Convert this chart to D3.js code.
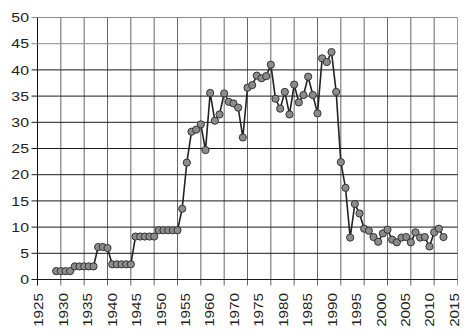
<!DOCTYPE html>
<html>
<head>
<meta charset="utf-8">
<script src="https://cdn.jsdelivr.net/npm/d3@7"></script>
<style>
  html, body { margin: 0; padding: 0; background: #fff; }
  svg { display: block; }
  text { font-family: "Liberation Sans", Arial, sans-serif; fill: #222; }
</style>
</head>
<body>
<svg id="chart" width="471" height="335"></svg>
<script>
// ---- data ----
const years = d3.range(1929, 2013);
const values = [
  1.6, 1.6, 1.6, 1.6,
  2.5, 2.5, 2.5, 2.5, 2.5,
  6.2, 6.2, 6.0,
  2.9, 2.9, 2.9, 2.9, 2.9,
  8.2, 8.2, 8.2, 8.2, 8.2,
  9.4, 9.4, 9.4, 9.4, 9.4,
  13.5, 22.3, 28.2, 28.6, 29.6, 24.7, 35.6, 30.3, 31.5, 35.5,
  33.9, 33.6, 32.8, 27.1, 36.6, 37.1, 38.9, 38.4, 38.8, 41.0,
  34.5, 32.6, 35.8, 31.5, 37.2, 33.8, 35.2, 38.7, 35.2, 31.7,
  42.2, 41.5, 43.4, 35.8, 22.4, 17.5, 8.0, 14.4, 12.6, 9.7,
  9.3, 8.1, 7.2, 8.8, 9.5, 7.6, 7.1, 8.0, 8.1, 7.1,
  9.0, 8.0, 8.1, 6.3, 9.0, 9.7, 8.1
];
const xTickValues = d3.range(1925, 2016, 5);
const xTickLabels = ["1925","1930","1935","1940","1945","1950","1955","1960",
                     "1970","1975","1980","1985","1990","1995","2000","2005","2010","2015"];
const yTickValues = d3.range(0, 51, 5);

// ---- layout ----
const svg = d3.select("#chart");
const mLeft = 37.5, mRight = 457.5, mTop = 17.5, mBottom = 279.5;

const x = d3.scaleLinear().domain([1925, 2015]).range([mLeft, mRight]);
const y = d3.scaleLinear().domain([0, 50]).range([mBottom, mTop]);
const xl = d3.scalePoint().domain(xTickLabels).range([mLeft + 1.5, mRight - 3]);

const data = years.map((yr, i) => ({ year: yr, value: values[i] }));

// vertical gridlines
svg.append("g").selectAll("line").data(xTickValues).join("line")
  .attr("x1", d => x(d)).attr("x2", d => x(d))
  .attr("y1", mTop).attr("y2", mBottom + 6)
  .attr("stroke", (d, i) => i === xTickValues.length - 1 ? "#999" : (i === 0 ? "#111" : "#666"))
  .attr("stroke-width", 1);

// horizontal gridlines
svg.append("g").selectAll("line").data(yTickValues).join("line")
  .attr("x1", mLeft - 6).attr("x2", mRight)
  .attr("y1", d => y(d)).attr("y2", d => y(d))
  .attr("stroke", d => d >= 45 ? "#8a8a8a" : "#1a1a1a")
  .attr("stroke-width", 1);

// y labels
svg.append("g").selectAll("text").data(yTickValues).join("text")
  .attr("transform", d => `translate(29,${y(d)}) scale(1.22,1)`)
  .attr("text-anchor", "end")
  .attr("dy", "0.36em")
  .style("font-size", "13px")
  .text(d => d);

// x labels
svg.append("g").selectAll("text").data(xTickLabels).join("text")
  .attr("transform", d => `translate(${xl(d)},293) rotate(-90) scale(1.27,1)`)
  .attr("text-anchor", "end")
  .attr("dy", "0.36em")
  .style("font-size", "12px")
  .text(d => d);

// line
const line = d3.line().x(d => x(d.year)).y(d => y(d.value));
svg.append("path").datum(data)
  .attr("d", line)
  .attr("fill", "none")
  .attr("stroke", "#222")
  .attr("stroke-width", 1.6)
  .attr("stroke-linejoin", "round");

// markers
svg.append("g").selectAll("circle").data(data).join("circle")
  .attr("cx", d => x(d.year))
  .attr("cy", d => y(d.value))
  .attr("r", 3.6)
  .attr("fill", "#8c8c8c")
  .attr("stroke", "#333")
  .attr("stroke-width", 1);
</script>
</body>
</html>
